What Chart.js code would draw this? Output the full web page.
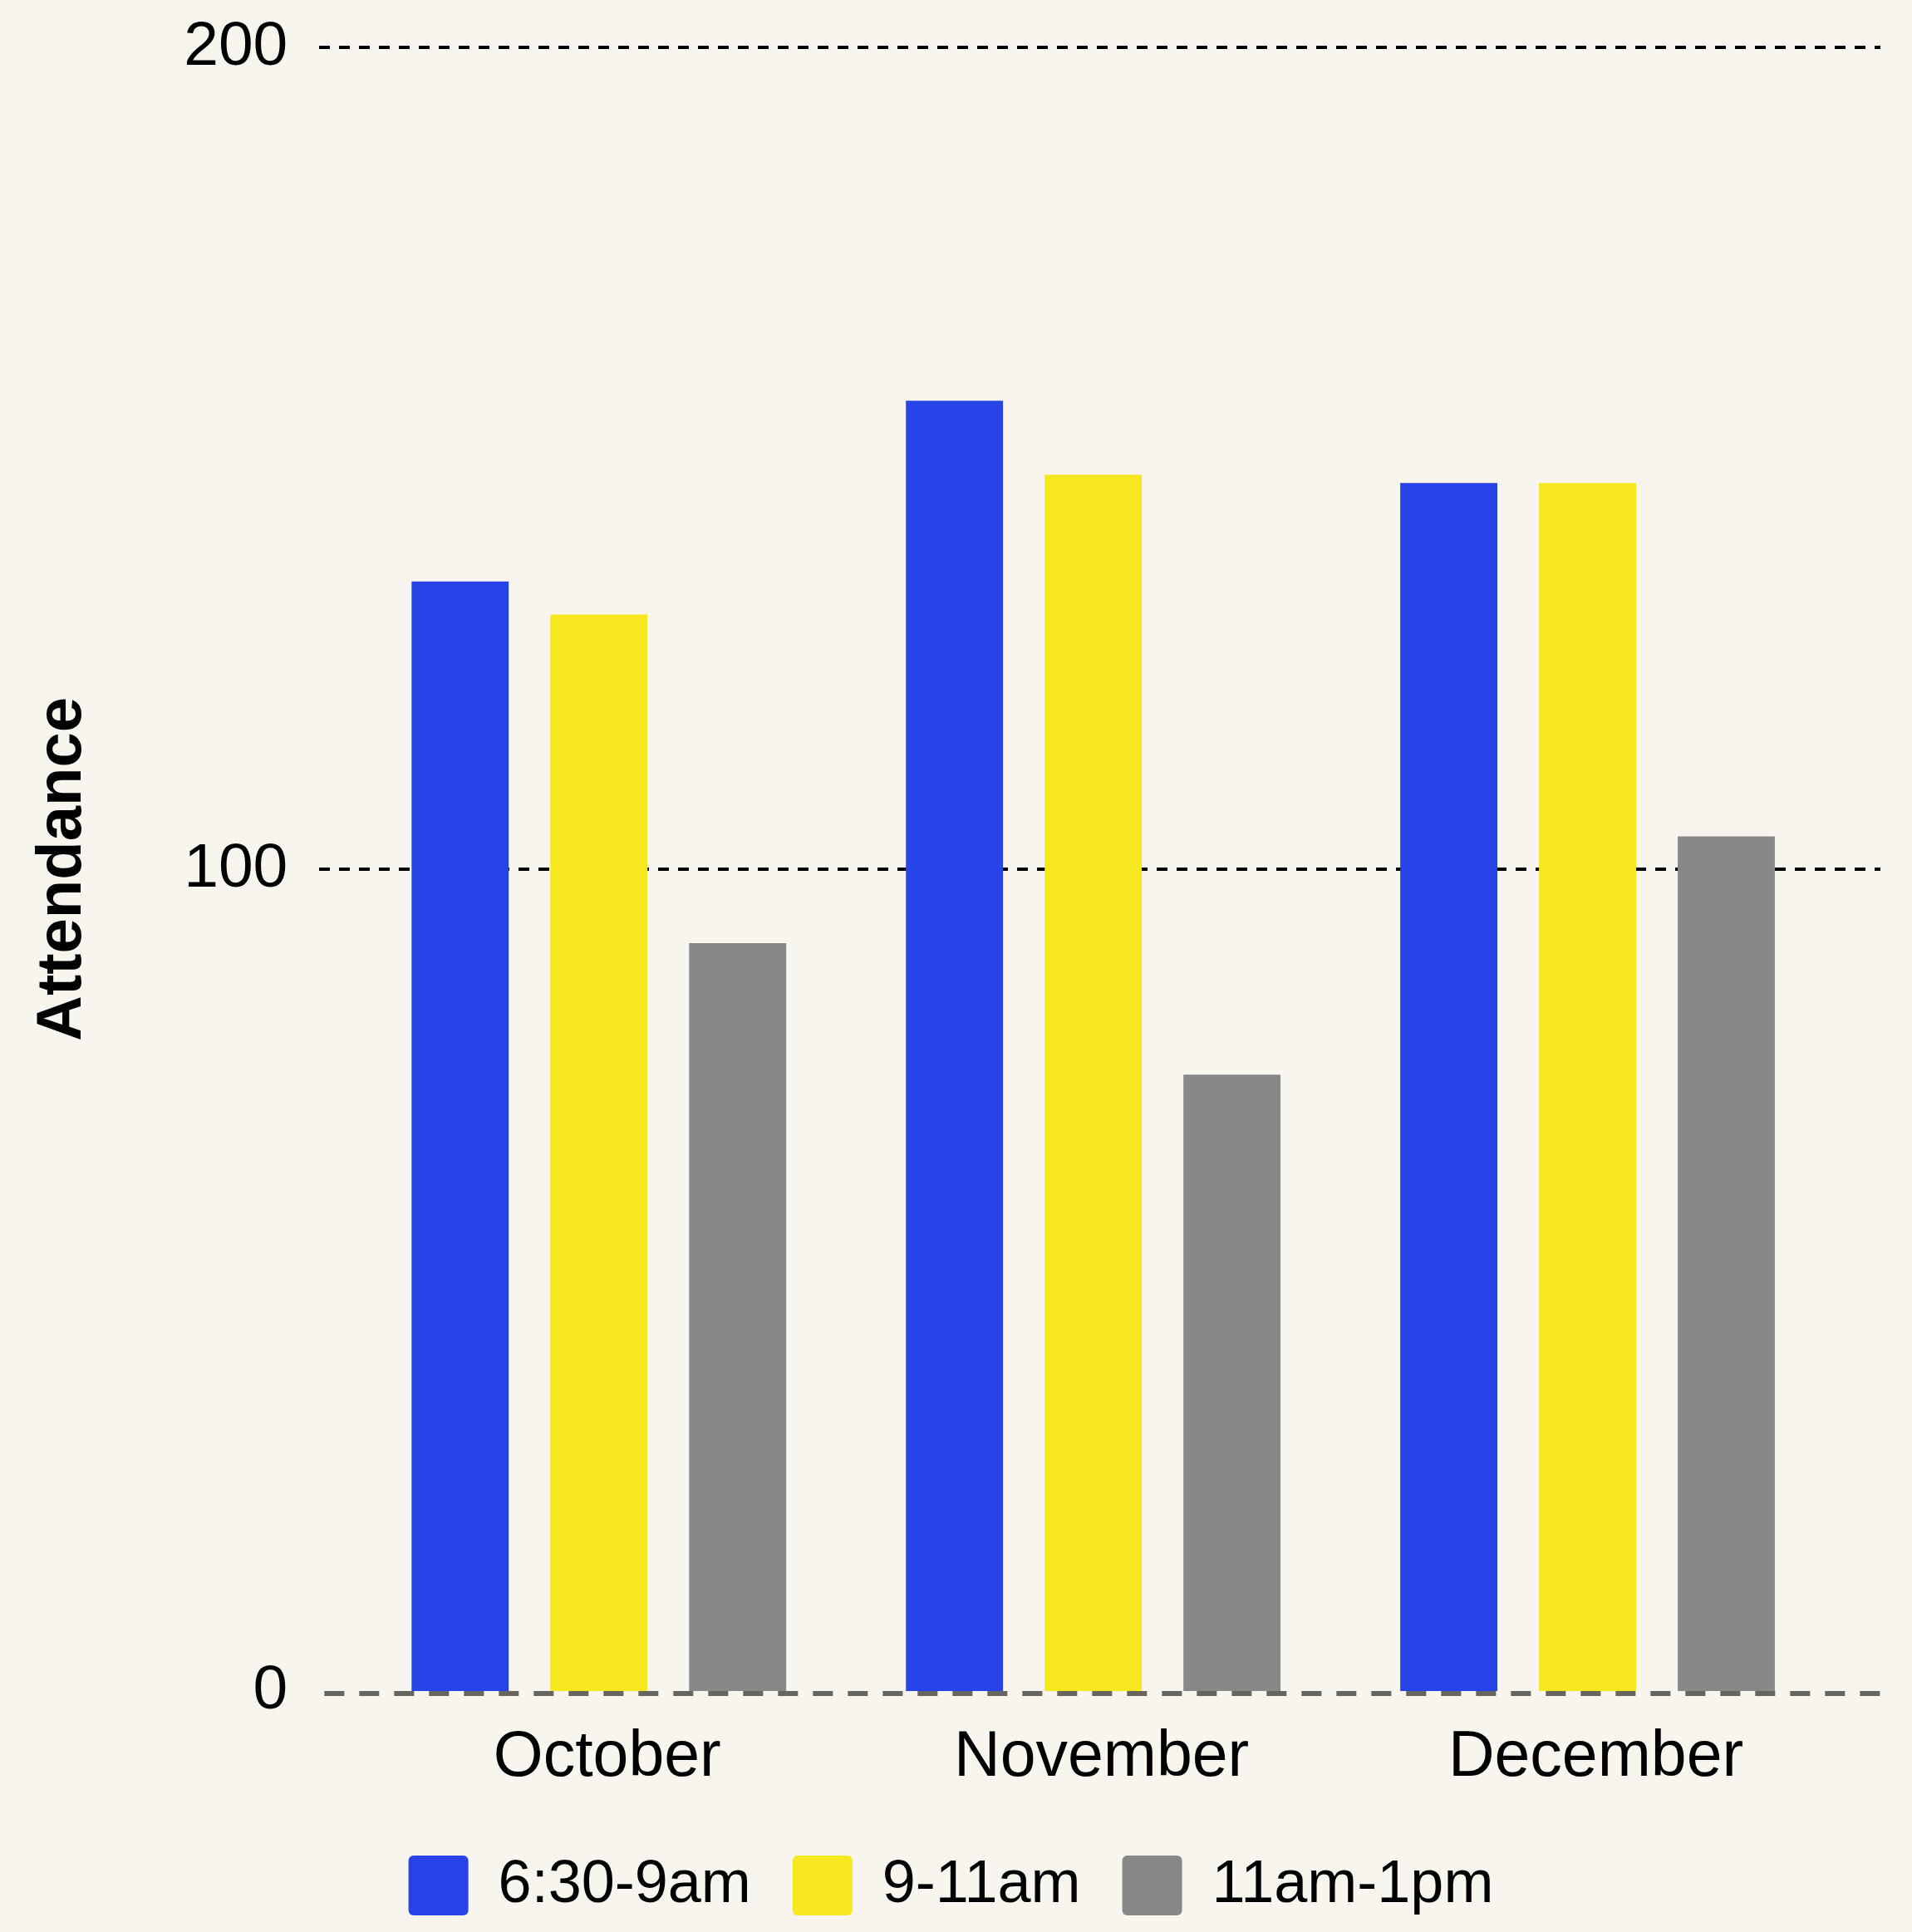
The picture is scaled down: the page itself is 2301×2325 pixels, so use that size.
<!DOCTYPE html>
<html>
<head>
<meta charset="utf-8">
<title>Attendance by month</title>
<script src="https://cdn.jsdelivr.net/npm/chart.js@4/dist/chart.umd.min.js"></script>
<style>
  html, body { margin: 0; padding: 0; background: #f7f5ee; }
  #wrap { width: 2301px; height: 2325px; }
  canvas { display: block; }
</style>
</head>
<body>
<div id="wrap"><canvas id="chart" width="2301" height="2325"></canvas></div>
<script>
// Monthly attendance per time slot
const months = ['October', 'November', 'December'];
const seriesNames = ['6:30-9am', '9-11am', '11am-1pm'];
const earlyMorning = [135, 157, 147];
const lateMorning = [131, 148, 147];
const midday = [91, 75, 104];
const yTicks = [0, 100, 200];

const colors = ['#2843e8', '#f7e71f', '#888888'];
const seriesValues = [earlyMorning, lateMorning, midday];

const FONT = "'Liberation Sans', Arial, Helvetica, sans-serif";

// dashed baseline drawn just under the zero value
const zeroLine = {
  id: 'zeroLine',
  beforeDatasetsDraw(chart) {
    const { ctx, chartArea, scales } = chart;
    const y = scales.y.getPixelForValue(0) + 3;
    ctx.save();
    ctx.strokeStyle = '#676560';
    ctx.lineWidth = 6;
    ctx.setLineDash([24, 18]);
    ctx.beginPath();
    ctx.moveTo(chartArea.left + 6, y);
    ctx.lineTo(chartArea.right, y);
    ctx.stroke();
    ctx.restore();
  }
};

const canvasBg = {
  id: 'canvasBg',
  beforeDraw(chart) {
    const { ctx, width, height } = chart;
    ctx.save();
    ctx.fillStyle = '#f7f5ee';
    ctx.fillRect(0, 0, width, height);
    ctx.restore();
  }
};

new Chart(document.getElementById('chart'), {
  type: 'bar',
  data: {
    datasets: seriesNames.map((name, s) => ({
      label: name,
      data: seriesValues[s].map((v, i) => ({ x: i, y: v })),
      backgroundColor: colors[s],
      borderWidth: 0,
      categoryPercentage: 0.842,
      barPercentage: 0.7
    }))
  },
  options: {
    responsive: false,
    devicePixelRatio: 1,
    animation: false,
    layout: { padding: { top: 57, right: 38, bottom: 10, left: 26 } },
    plugins: {
      tooltip: { enabled: false },
      legend: {
        position: 'bottom',
        labels: {
          boxWidth: 72,
          boxHeight: 72,
          padding: 50,
          useBorderRadius: true,
          borderRadius: 6,
          color: '#000',
          font: { family: FONT, size: 72 }
        }
      }
    },
    scales: {
      x: {
        type: 'linear',
        offset: false,
        min: -0.5655,
        max: 2.5925,
        // invisible tick marks only reserve room above the month labels
        grid: { display: true, drawOnChartArea: false, drawTicks: true, tickLength: 14, lineWidth: 0, color: 'rgba(0,0,0,0)' },
        border: { display: false },
        afterBuildTicks(scale) {
          scale.ticks = months.map((_, i) => ({ value: i }));
        },
        ticks: {
          padding: 0,
          labelOffset: 10,
          color: '#000',
          font: { family: FONT, size: 77, lineHeight: 1.74 },
          callback: (v) => months[Math.round(v)]
        }
      },
      y: {
        min: 0,
        max: 200,
        afterBuildTicks(scale) {
          scale.ticks = yTicks.map(v => ({ value: v }));
        },
        grid: {
          drawTicks: false,
          color: '#000',
          lineWidth: (c) => (c.tick && c.tick.value === 0 ? 0 : 4)
        },
        border: { display: false, dash: [13, 11] },
        ticks: {
          padding: 38,
          color: '#000',
          font: { family: FONT, size: 75, lineHeight: 0.5 }
        },
        title: {
          display: true,
          text: 'Attendance',
          color: '#000',
          padding: { top: 4, bottom: 62 },
          font: { family: FONT, size: 76, weight: 'bold', lineHeight: 1.2 }
        }
      }
    }
  },
  plugins: [canvasBg, zeroLine]
});
</script>
</body>
</html>
